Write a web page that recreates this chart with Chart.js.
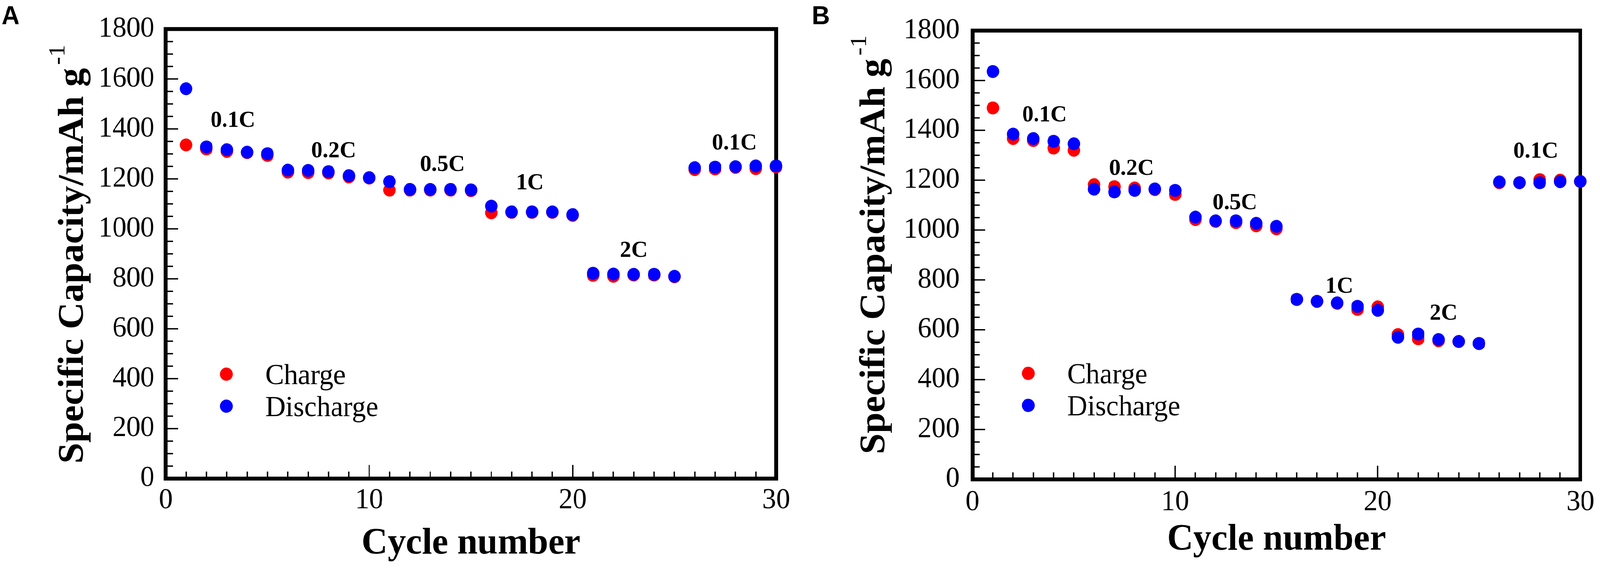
<!DOCTYPE html>
<html lang="en">
<head>
    <meta charset="UTF-8">
    <title>Rate capability</title>
    <script src="https://cdn.jsdelivr.net/npm/chart.js"></script>
    <style>
        * {
            margin: 0;
            padding: 0;
            box-sizing: border-box;
        }

        html, body {
            background: #fff;
            width: 100%;
            height: 100%;
            overflow: hidden;
        }

        #stage {
            position: absolute;
            left: 0;
            top: 0;
            width: 4228px;
            height: 1455px;
            transform-origin: 0 0;
        }

        .panel {
            position: absolute;
            top: 0;
            width: 2114px;
            height: 1455px;
        }
    </style>
</head>
<body>
    <div id="stage">
        <div class="panel" style="left:0"><canvas id="chartA"></canvas></div>
        <div class="panel" style="left:2114px"><canvas id="chartB"></canvas></div>
    </div>

    <script>
        // cycle index shared by both panels
        const cycles = [1, 2, 3, 4, 5, 6, 7, 8, 9, 10, 11, 12, 13, 14, 15,
                        16, 17, 18, 19, 20, 21, 22, 23, 24, 25, 26, 27, 28, 29, 30];

        // panel A (mAh g-1)
        const chargeA = [1336, 1320, 1310, 1305, 1294, 1227, 1225, 1224, 1208, 1203,
                         1155, 1155, 1155, 1155, 1153, 1064, 1066, 1066, 1066, 1054,
                         814, 810, 815, 815, 808, 1237, 1240, 1246, 1241, 1248];
        const dischargeA = [1561, 1328, 1317, 1307, 1301, 1235, 1234, 1229, 1213, 1205,
                            1189, 1158, 1158, 1158, 1156, 1091, 1068, 1068, 1068, 1057,
                            822, 819, 818, 818, 810, 1245, 1247, 1249, 1252, 1252];

        // panel B (mAh g-1)
        const chargeB = [1490, 1367, 1359, 1329, 1320, 1182, 1174, 1169, 1162, 1143,
                         1042, 1035, 1030, 1017, 1005, 722, 714, 706, 682, 692,
                         581, 564, 556, 553, 545, 1190, 1190, 1202, 1200, 1195];
        const dischargeB = [1636, 1385, 1367, 1356, 1346, 1164, 1153, 1159, 1165, 1159,
                            1052, 1037, 1037, 1027, 1015, 722, 714, 708, 694, 678,
                            570, 583, 561, 553, 545, 1193, 1190, 1190, 1194, 1195];

        // current-rate labels, placed in data coordinates [cycle, capacity]
        const rateLabels = ['0.1C', '0.2C', '0.5C', '1C', '2C', '0.1C'];
        const rateAtA = [[3.3, 1432], [8.25, 1310], [13.6, 1256], [17.9, 1182], [23.0, 912], [27.95, 1342]];
        const rateAtB = [[3.55, 1460], [7.85, 1245], [12.95, 1108], [18.1, 772], [23.25, 664], [27.8, 1315]];

        const xTickStep = 10;
        const yTickStep = 200;

        const SERIF = "'Liberation Serif', 'Times New Roman', serif";

        // the window may be narrower than 4228 css px, so squeeze the stage to fit it
        const sx = window.innerWidth / 4228;
        const sy = window.innerHeight / 1455;
        document.getElementById('stage').style.transform = 'scale(' + sx + ',' + sy + ')';

        // frame + inward tick marks (left and bottom only)
        const framePlugin = {
            id: 'frame',
            beforeDatasetsDraw(chart) {
                const ctx = chart.ctx;
                const a = chart.chartArea;
                const xs = chart.scales.x;
                const ys = chart.scales.y;
                ctx.save();
                ctx.strokeStyle = '#000';
                ctx.lineWidth = 3.5;
                ctx.beginPath();
                for (let v = 0; v <= 1800; v += 50) {
                    const py = ys.getPixelForValue(v);
                    const len = v % yTickStep === 0 ? 33 : 19;
                    ctx.moveTo(a.left, py);
                    ctx.lineTo(a.left + len, py);
                }
                for (let c = 0; c <= 30; c += 1) {
                    const px = xs.getPixelForValue(c);
                    const len = c % xTickStep === 0 ? 35 : 18;
                    ctx.moveTo(px, a.bottom);
                    ctx.lineTo(px, a.bottom - len);
                }
                ctx.stroke();
                ctx.lineWidth = 10;
                ctx.strokeRect(a.left, a.top, a.right - a.left, a.bottom - a.top);
                ctx.restore();
            }
        };

        // rate labels, legend, y title, panel letter
        const textPlugin = {
            id: 'texts',
            afterDraw(chart, args, opts) {
                const ctx = chart.ctx;
                const a = chart.chartArea;
                const xs = chart.scales.x;
                const ys = chart.scales.y;
                ctx.save();
                ctx.fillStyle = '#000';

                // rate annotations
                ctx.font = 'bold 60px ' + SERIF;
                ctx.textAlign = 'center';
                ctx.textBaseline = 'middle';
                opts.rates.forEach((p, i) => {
                    ctx.fillText(rateLabels[i], xs.getPixelForValue(p[0]), ys.getPixelForValue(p[1]));
                });

                // legend
                ctx.font = '74px ' + SERIF;
                ctx.textAlign = 'left';
                chart.data.datasets.slice().sort((d1, d2) => d2.order - d1.order).forEach((ds, i) => {
                    const cy = a.top + opts.legendTop + i * 82;
                    ctx.fillStyle = ds.backgroundColor;
                    ctx.beginPath();
                    ctx.arc(a.left + opts.legendDot, cy, 17, 0, Math.PI * 2);
                    ctx.fill();
                    ctx.fillStyle = '#000';
                    ctx.fillText(ds.label, a.left + opts.legendText, cy + 6);
                });

                // y axis title with superscript
                const main = 'Specific Capacity/mAh g';
                const sup = '-1';
                ctx.font = 'bold 96px ' + SERIF;
                const wMain = ctx.measureText(main).width;
                ctx.font = '62px ' + SERIF;
                const wSup = ctx.measureText(sup).width;
                const total = wMain + 8 + wSup;
                ctx.translate(a.left - opts.titleOffset, opts.titleCenter);
                ctx.rotate(-Math.PI / 2);
                ctx.textAlign = 'left';
                ctx.textBaseline = 'alphabetic';
                ctx.font = 'bold 96px ' + SERIF;
                ctx.fillText(main, -total / 2, 0);
                ctx.font = '62px ' + SERIF;
                ctx.fillText(sup, -total / 2 + wMain + 8, -49);
                ctx.setTransform(1, 0, 0, 1, 0, 0);

                // panel letter
                ctx.font = 'bold 66px "Liberation Sans", Arial, sans-serif';
                ctx.textAlign = 'left';
                ctx.textBaseline = 'alphabetic';
                ctx.fillText(opts.letter, opts.letterX, 62);
                ctx.restore();
            }
        };

        function makePanel(id, charge, discharge, p) {
            const pts = arr => cycles.map((c, i) => ({ x: c, y: arr[i] }));
            return new Chart(document.getElementById(id), {
                type: 'scatter',
                data: {
                    datasets: [
                        {
                            label: 'Discharge',
                            data: pts(discharge),
                            backgroundColor: '#0000ff',
                            borderWidth: 0,
                            pointRadius: 16.5,
                            order: 0,
                            clip: false
                        },
                        {
                            label: 'Charge',
                            data: pts(charge),
                            backgroundColor: '#ff0000',
                            borderWidth: 0,
                            pointRadius: 16.5,
                            order: 1,
                            clip: false
                        }
                    ]
                },
                options: {
                    responsive: true,
                    maintainAspectRatio: false,
                    devicePixelRatio: 1,
                    animation: false,
                    events: [],
                    layout: {
                        padding: { left: 0, top: p.top, right: p.right, bottom: 0 }
                    },
                    scales: {
                        x: {
                            type: 'linear',
                            min: 0,
                            max: 30,
                            grid: { display: false, drawTicks: false },
                            border: { display: false },
                            ticks: {
                                stepSize: xTickStep,
                                color: '#000',
                                padding: p.xPad,
                                font: { family: SERIF, size: 74 },
                                callback: v => String(v)
                            },
                            title: {
                                display: true,
                                text: 'Cycle number',
                                color: '#000',
                                padding: { top: 0, bottom: p.xTitlePad },
                                font: { family: SERIF, size: 96, weight: 'bold' }
                            },
                            afterFit(scale) { scale.height = p.xHeight; }
                        },
                        y: {
                            min: 0,
                            max: 1800,
                            grid: { display: false, drawTicks: false },
                            border: { display: false },
                            ticks: {
                                stepSize: yTickStep,
                                color: '#000',
                                padding: p.yPad,
                                font: { family: SERIF, size: 74 },
                                callback: v => String(v)
                            },
                            afterFit(scale) { scale.width = p.left; }
                        }
                    },
                    plugins: {
                        legend: { display: false },
                        tooltip: { enabled: false },
                        texts: {
                            rates: p.rates,
                            letter: p.letter,
                            letterX: p.letterX,
                            legendTop: p.legendTop,
                            legendDot: p.legendDot,
                            legendText: p.legendText,
                            titleOffset: p.titleOffset,
                            titleCenter: p.titleCenter
                        }
                    }
                },
                plugins: [framePlugin, textPlugin]
            });
        }

        makePanel('chartA', chargeA, dischargeA, {
            left: 438, top: 66, right: 63, xHeight: 229,
            xPad: 12, xTitlePad: 4, yPad: 30,
            rates: rateAtA, letter: 'A', letterX: 4,
            legendTop: 884, legendDot: 160, legendText: 263,
            titleOffset: 219, titleCenter: 651
        });

        makePanel('chartB', chargeB, dischargeB, {
            left: 456, top: 76, right: 40, xHeight: 227,
            xPad: 15, xTitlePad: 14, yPad: 34,
            rates: rateAtB, letter: 'B', letterX: 31,
            legendTop: 878, legendDot: 147, legendText: 250,
            titleOffset: 233, titleCenter: 627
        });
    </script>
</body>
</html>
